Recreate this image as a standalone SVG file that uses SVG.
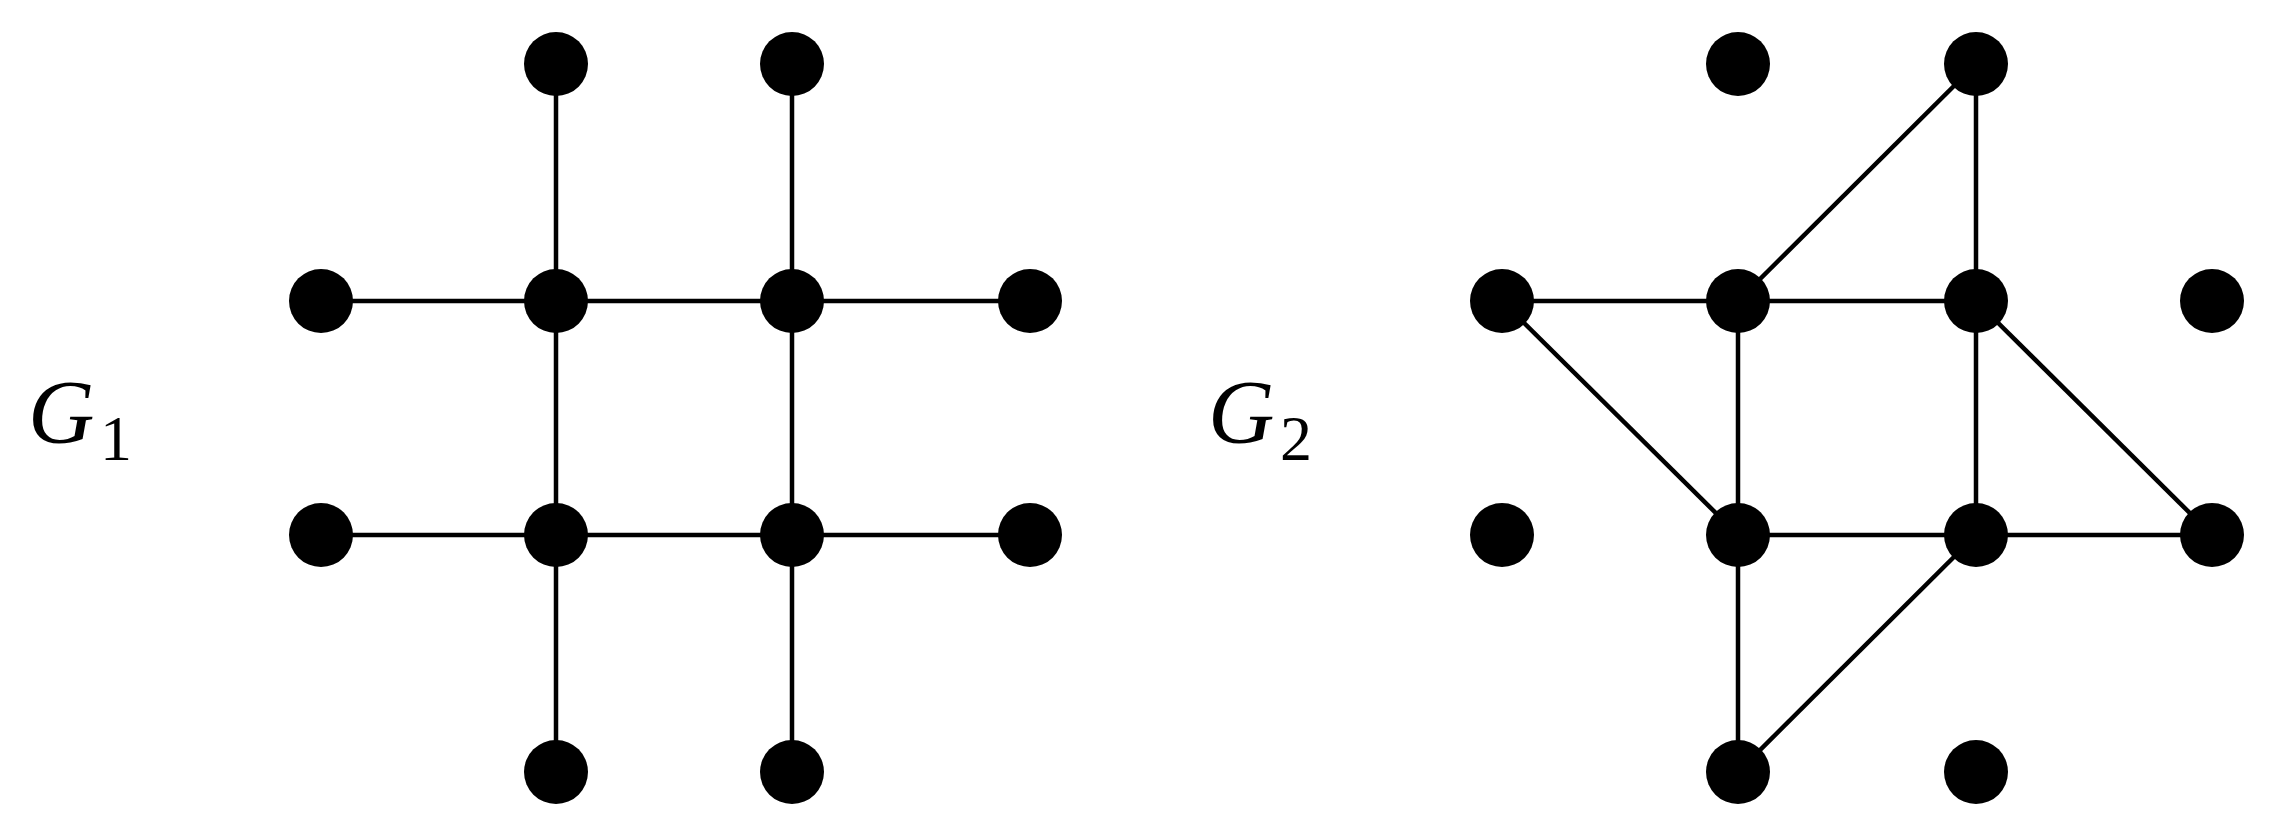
<svg xmlns="http://www.w3.org/2000/svg" width="2288" height="833" viewBox="0 0 2288 833">
<style>
.e{stroke:#000;stroke-width:4.5;fill:none}
.n{fill:#000}
.l{font-family:"Liberation Serif",serif;font-style:italic;font-size:92px}
.s{font-family:"Liberation Serif",serif;font-size:64px}
</style>
<rect width="2288" height="833" fill="#fff"/>
<g id="connectors" class="e">
<line x1="321" y1="301" x2="1030" y2="301"/>
<line x1="321" y1="535" x2="1030" y2="535"/>
<line x1="556" y1="64" x2="556" y2="772"/>
<line x1="792" y1="64" x2="792" y2="772"/>
<line x1="1502" y1="301" x2="1976" y2="301"/>
<line x1="1502" y1="301" x2="1738" y2="535"/>
<line x1="1738" y1="301" x2="1976" y2="64"/>
<line x1="1976" y1="64" x2="1976" y2="535"/>
<line x1="1738" y1="301" x2="1738" y2="772"/>
<line x1="1976" y1="301" x2="2212" y2="535"/>
<line x1="1738" y1="535" x2="2212" y2="535"/>
<line x1="1976" y1="535" x2="1738" y2="772"/>
</g>
<g id="g1-nodes" class="n">
<circle id="a1" cx="556" cy="64" r="32"/><circle id="a2" cx="792" cy="64" r="32"/>
<circle id="a3" cx="321" cy="301" r="32"/><circle id="a4" cx="556" cy="301" r="32"/><circle id="a5" cx="792" cy="301" r="32"/><circle id="a6" cx="1030" cy="301" r="32"/>
<circle id="a7" cx="321" cy="535" r="32"/><circle id="a8" cx="556" cy="535" r="32"/><circle id="a9" cx="792" cy="535" r="32"/><circle id="a10" cx="1030" cy="535" r="32"/>
<circle id="a11" cx="556" cy="772" r="32"/><circle id="a12" cx="792" cy="772" r="32"/>
</g>
<g id="g2-nodes" class="n">
<circle id="b1" cx="1738" cy="64" r="32"/><circle id="b2" cx="1976" cy="64" r="32"/>
<circle id="b3" cx="1502" cy="301" r="32"/><circle id="b4" cx="1738" cy="301" r="32"/><circle id="b5" cx="1976" cy="301" r="32"/><circle id="b6" cx="2212" cy="301" r="32"/>
<circle id="b7" cx="1502" cy="535" r="32"/><circle id="b8" cx="1738" cy="535" r="32"/><circle id="b9" cx="1976" cy="535" r="32"/><circle id="b10" cx="2212" cy="535" r="32"/>
<circle id="b11" cx="1738" cy="772" r="32"/><circle id="b12" cx="1976" cy="772" r="32"/>
</g>
<g id="label-g1"><text class="l" x="28" y="443">G</text><text class="s" x="100" y="460">1</text></g>
<g id="label-g2"><text class="l" x="1208" y="443">G</text><text class="s" x="1280" y="460">2</text></g>
</svg>
